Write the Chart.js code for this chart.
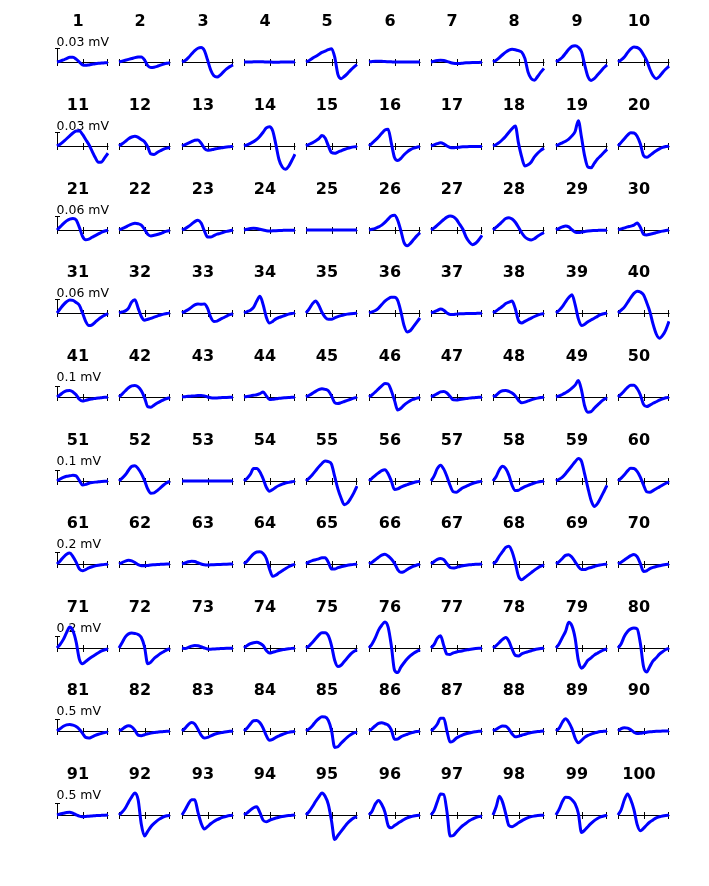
<!DOCTYPE html>
<html><head><meta charset="utf-8">
<script src="https://cdn.jsdelivr.net/npm/chart.js@4.4.1/dist/chart.umd.min.js"></script>
<style>
html,body{margin:0;padding:0;background:#fff;}
#fig{position:relative;width:709px;height:886px;overflow:hidden;background:#fff;}
#fig canvas{position:absolute;}
</style></head><body><div id="fig"></div>
<script>
// ---- data ----
const timeSamples = [0,.0625,.125,.1875,.25,.3125,.375,.4375,.5,.5625,.625,.6875,.75,.8125,.875,.9375,1];
const xTickValues = [0, 0.5, 1];
const rowScaleBarMv = [0.03,0.03,0.06,0.06,0.1,0.1,0.2,0.2,0.5,0.5];
const rowScaleBarLabels = ['0.03 mV','0.03 mV','0.06 mV','0.06 mV','0.1 mV','0.1 mV','0.2 mV','0.2 mV','0.5 mV','0.5 mV'];

const w1 = [0,.0018,.0042,.0072,.0096,.0096,.006,0,-.006,-.0069,-.006,-.0048,-.0036,-.0027,-.0021,-.0018,-.0015];
const w2 = [0,.0018,.0036,.0054,.0072,.009,.0102,.0105,.0045,-.0075,-.0114,-.0108,-.009,-.0066,-.0045,-.0027,-.0015];
const w3 = [0,.003,.009,.0165,.0234,.0285,.03,.024,.0045,-.0165,-.0285,-.0312,-.027,-.0204,-.0144,-.0096,-.006];
const w4 = [0,0,0,.0003,.0003,.0003,.0003,0,0,-.0003,-.0003,-.0003,0,0,0,0,0];
const w5 = [0,.003,.0075,.0114,.0156,.0198,.0225,.0255,.0276,.0105,-.0255,-.0345,-.03,-.024,-.0168,-.0105,-.0054];
const w6 = [0,.0012,.0018,.0018,.0015,.0009,.0006,.0003,0,0,0,0,0,0,0,0,0];
const w7 = [0,.0018,.003,.0036,.003,.0012,-.0009,-.0024,-.003,-.003,-.0024,-.0018,-.0015,-.0012,-.0009,-.0009,-.0006];
const w8 = [0,.0036,.009,.015,.0204,.0246,.0264,.0255,.0234,.0204,.0075,-.021,-.0345,-.0375,-.03,-.021,-.0132];
const w9 = [0,.0045,.0099,.018,.0264,.0324,.0336,.0306,.021,-.006,-.03,-.0381,-.0345,-.027,-.0195,-.012,-.006];
const w10 = [0,.0045,.0105,.0195,.027,.0312,.03,.0255,.015,.003,-.015,-.0285,-.0345,-.03,-.0216,-.0144,-.0084];
const w11 = [0,.0036,.009,.015,.021,.027,.0309,.0315,.024,.0135,.003,-.0105,-.024,-.0336,-.033,-.024,-.015];
const w12 = [0,.0045,.0096,.015,.0186,.0204,.018,.0135,.009,-.0015,-.0165,-.0174,-.0135,-.0099,-.0066,-.0045,-.003];
const w13 = [0,.003,.006,.009,.012,.0126,.006,-.0045,-.009,-.0081,-.0066,-.0054,-.0042,-.003,-.0021,-.0015,-.0009];
const w14 = [0,.0024,.0054,.009,.0135,.0204,.0285,.0375,.0399,.0315,.003,-.0285,-.0435,-.048,-.042,-.03,-.0171];
const w15 = [0,.0036,.0066,.0105,.015,.0216,.0165,.0006,-.0135,-.015,-.0126,-.0099,-.0072,-.0048,-.003,-.0018,-.0012];
const w16 = [0,.006,.012,.0186,.0264,.033,.0345,.006,-.024,-.03,-.0255,-.018,-.012,-.0075,-.0042,-.0024,-.0015];
const w17 = [0,.0024,.0048,.0066,.0045,0,-.003,-.0036,-.003,-.0024,-.0018,-.0015,-.0012,-.0012,-.0009,-.0009,-.0009];
const w18 = [0,.003,.0075,.0135,.0204,.0285,.036,.0414,.006,-.0225,-.0414,-.039,-.033,-.0225,-.015,-.009,-.0045];
const w19 = [0,.0036,.0066,.0099,.0144,.021,.03,.0525,.018,-.021,-.0435,-.045,-.036,-.027,-.0204,-.0135,-.0069];
const w20 = [0,.0075,.015,.0225,.0276,.027,.0204,.0045,-.0195,-.0234,-.0195,-.0144,-.0099,-.006,-.003,-.0012,0];
const w21 = [0,.0132,.027,.039,.0468,.0498,.0432,.012,-.027,-.042,-.039,-.0312,-.024,-.0168,-.0096,-.0042,-.0012];
const w22 = [0,.006,.012,.0192,.0252,.0288,.027,.021,.003,-.018,-.0252,-.0228,-.0192,-.015,-.0096,-.0048,-.0024];
const w23 = [0,.006,.015,.0252,.036,.042,.03,-.003,-.03,-.03,-.024,-.018,-.0144,-.0096,-.006,-.003,0];
const w24 = [0,.003,.006,.0072,.006,.003,0,-.003,-.0042,-.0036,-.003,-.0024,-.0018,-.0012,-.0012,-.0006,-.0006];
const w25 = [0,0,0,0,0,0,0,0,0,0,0,0,0,0,0,0,0];
const w26 = [0,.003,.0072,.0132,.021,.033,.0468,.06,.063,.042,-.003,-.054,-.0672,-.057,-.0408,-.0252,-.0114];
const w27 = [0,.009,.021,.033,.045,.0552,.06,.057,.045,.024,.003,-.03,-.051,-.063,-.057,-.042,-.0228];
const w28 = [0,.012,.024,.0372,.0492,.0528,.0468,.033,.012,-.012,-.03,-.039,-.0426,-.0372,-.027,-.018,-.0108];
const w29 = [0,.0072,.0132,.0168,.0132,.0012,-.009,-.0108,-.009,-.006,-.0042,-.003,-.0024,-.0018,-.0012,-.0012,-.0006];
const w30 = [0,.0048,.009,.0132,.0168,.021,.03,.012,-.018,-.021,-.018,-.015,-.0114,-.0078,-.0048,-.0024,0];
const w31 = [0,.018,.0348,.048,.0558,.054,.045,.033,0,-.036,-.054,-.051,-.039,-.027,-.0168,-.009,-.003];
const w32 = [0,.0048,.009,.021,.048,.057,.021,-.015,-.0312,-.027,-.0228,-.018,-.0132,-.0084,-.0048,-.0018,0];
const w33 = [0,.0072,.015,.0252,.0348,.039,.0372,.039,.021,-.018,-.036,-.0348,-.027,-.0204,-.0132,-.0072,-.003];
const w34 = [0,.006,.012,.024,.051,.072,.036,-.018,-.0432,-.036,-.0252,-.0192,-.0144,-.0096,-.0048,-.0018,0];
const w35 = [0,.018,.039,.051,.033,.003,-.018,-.027,-.027,-.021,-.0156,-.0114,-.0078,-.0048,-.003,-.0018,-.0012];
const w36 = [0,.0048,.0108,.021,.036,.051,.0612,.0672,.0672,.054,.006,-.054,-.081,-.075,-.057,-.039,-.021];
const w37 = [0,.0048,.0108,.0168,.012,0,-.006,-.006,-.0048,-.0036,-.003,-.0024,-.0024,-.0018,-.0018,-.0012,-.0012];
const w38 = [0,.009,.0192,.0288,.0408,.0468,.051,.018,-.033,-.0432,-.036,-.0288,-.0216,-.015,-.009,-.0048,-.0024];
const w39 = [0,.012,.027,.048,.066,.078,.036,-.024,-.054,-.048,-.0372,-.03,-.0228,-.0144,-.0072,-.003,0];
const w40 = [0,.012,.0252,.045,.066,.084,.093,.09,.078,.045,.006,-.048,-.09,-.108,-.096,-.072,-.036];
const w41 = [0,.02,.042,.055,.058,.045,.02,-.02,-.036,-.03,-.022,-.017,-.013,-.009,-.006,-.003,-.001];
const w42 = [0,.025,.055,.082,.098,.102,.09,.055,-.005,-.085,-.09,-.072,-.053,-.038,-.025,-.013,-.006];
const w43 = [0,.003,.006,.008,.01,.013,.014,.01,0,-.006,-.008,-.008,-.006,-.005,-.004,-.003,-.002];
const w44 = [0,.005,.01,.015,.02,.03,.045,.01,-.022,-.02,-.016,-.012,-.009,-.007,-.005,-.003,-.002];
const w45 = [0,.015,.032,.05,.065,.074,.068,.055,.01,-.05,-.058,-.05,-.04,-.03,-.02,-.01,-.003];
const w46 = [0,.02,.045,.072,.098,.12,.115,.055,-.03,-.115,-.1,-.072,-.05,-.032,-.02,-.01,-.004];
const w47 = [0,.015,.03,.045,.048,.035,.005,-.025,-.026,-.022,-.018,-.014,-.01,-.007,-.005,-.003,-.002];
const w48 = [0,.015,.042,.055,.058,.05,.035,.01,-.03,-.05,-.045,-.035,-.025,-.017,-.01,-.005,-.002];
const w49 = [0,.01,.022,.038,.055,.078,.105,.145,.06,-.08,-.135,-.13,-.1,-.072,-.045,-.022,-.008];
const w50 = [0,.025,.055,.085,.105,.105,.075,.02,-.065,-.085,-.072,-.055,-.042,-.028,-.016,-.007,-.002];
const w51 = [0,.018,.032,.042,.046,.05,.045,.005,-.035,-.03,-.02,-.014,-.01,-.007,-.004,-.002,-.001];
const w52 = [0,.025,.055,.095,.13,.135,.11,.065,.005,-.07,-.108,-.105,-.085,-.06,-.035,-.015,-.003];
const w53 = [0,0,0,0,0,0,0,0,0,0,0,0,0,0,0,0,0];
const w54 = [0,.025,.06,.11,.11,.08,.02,-.055,-.09,-.075,-.055,-.04,-.028,-.018,-.012,-.006,-.002];
const w55 = [0,.025,.055,.09,.125,.155,.178,.172,.15,.04,-.07,-.15,-.21,-.195,-.155,-.105,-.045];
const w56 = [0,.025,.05,.072,.092,.1,.065,0,-.075,-.07,-.055,-.042,-.032,-.022,-.013,-.006,-.002];
const w57 = [0,.045,.11,.14,.105,.04,-.04,-.095,-.1,-.08,-.06,-.048,-.035,-.022,-.013,-.006,-.002];
const w58 = [0,.04,.1,.13,.11,.05,-.04,-.085,-.082,-.065,-.05,-.038,-.028,-.018,-.01,-.005,-.002];
const w59 = [0,.015,.035,.065,.1,.135,.17,.2,.175,.06,-.06,-.17,-.225,-.2,-.15,-.095,-.038];
const w60 = [0,.025,.055,.09,.112,.11,.085,.035,-.035,-.095,-.1,-.085,-.068,-.052,-.035,-.02,-.009];
const w61 = [0,.05,.11,.16,.18,.12,.03,-.08,-.11,-.09,-.064,-.044,-.03,-.02,-.012,-.006,-.002];
const w62 = [0,.024,.048,.06,.05,.024,-.01,-.028,-.03,-.024,-.016,-.012,-.008,-.006,-.004,-.002,0];
const w63 = [0,.016,.036,.046,.04,.02,0,-.012,-.016,-.014,-.012,-.01,-.008,-.006,-.004,-.002,0];
const w64 = [0,.05,.11,.164,.196,.2,.17,.09,-.08,-.2,-.18,-.144,-.11,-.076,-.044,-.02,-.006];
const w65 = [0,.034,.056,.07,.084,.1,.1,.03,-.08,-.08,-.06,-.044,-.032,-.02,-.012,-.006,-.002];
const w66 = [0,.03,.07,.11,.144,.16,.13,.08,.01,-.09,-.136,-.124,-.09,-.06,-.036,-.016,-.006];
const w67 = [0,.04,.076,.09,.07,.004,-.056,-.066,-.056,-.04,-.028,-.02,-.014,-.01,-.006,-.004,-.002];
const w68 = [0,.044,.13,.2,.27,.29,.2,.02,-.2,-.256,-.22,-.18,-.14,-.1,-.064,-.036,-.016];
const w69 = [0,.04,.09,.14,.152,.11,.036,-.04,-.09,-.09,-.07,-.056,-.04,-.024,-.014,-.006,-.002];
const w70 = [0,.03,.064,.1,.136,.156,.12,.01,-.12,-.11,-.076,-.056,-.04,-.028,-.016,-.008,-.004];
const w71 = [0,.06,.14,.25,.34,.28,.1,-.18,-.256,-.22,-.18,-.144,-.11,-.076,-.048,-.028,-.016];
const w72 = [0,.09,.18,.23,.244,.236,.22,.17,.02,-.256,-.23,-.17,-.13,-.09,-.06,-.03,-.01];
const w73 = [0,-.008,.01,.03,.04,.036,.02,0,-.016,-.02,-.016,-.012,-.01,-.008,-.006,-.004,-.004];
const w74 = [0,.04,.07,.086,.092,.076,.04,-.04,-.08,-.07,-.054,-.04,-.03,-.02,-.012,-.006,-.002];
const w75 = [0,.036,.09,.15,.21,.25,.25,.2,.04,-.2,-.3,-.28,-.22,-.16,-.1,-.056,-.03];
const w76 = [0,.07,.17,.29,.37,.424,.34,.04,-.36,-.4,-.31,-.24,-.176,-.124,-.084,-.054,-.03];
const w77 = [0,.06,.16,.2,.04,-.1,-.104,-.08,-.066,-.054,-.044,-.034,-.024,-.016,-.01,-.006,-.004];
const w78 = [0,.04,.09,.14,.17,.11,-.02,-.12,-.13,-.096,-.076,-.06,-.044,-.028,-.016,-.008,-.004];
const w79 = [0,.07,.17,.27,.42,.36,.16,-.2,-.33,-.28,-.2,-.16,-.116,-.084,-.054,-.03,-.016];
const w80 = [0,.07,.19,.27,.31,.324,.31,.08,-.3,-.39,-.3,-.21,-.16,-.1,-.06,-.024,-.006];
const w81 = [0,.1,.2,.26,.28,.25,.19,.075,-.1,-.275,-.3,-.25,-.19,-.14,-.1,-.065,-.04];
const w82 = [0,.075,.175,.22,.175,.025,-.175,-.2,-.16,-.12,-.09,-.065,-.05,-.035,-.025,-.015,-.01];
const w83 = [0,.125,.275,.36,.3,.075,-.175,-.3,-.275,-.21,-.15,-.11,-.08,-.05,-.03,-.015,-.005];
const w84 = [0,.125,.3,.44,.45,.35,.125,-.2,-.4,-.36,-.275,-.21,-.15,-.1,-.06,-.035,-.02];
const w85 = [0,.09,.225,.4,.525,.61,.6,.45,.025,-.7,-.675,-.525,-.39,-.26,-.16,-.085,-.045];
const w86 = [0,.1,.225,.325,.35,.31,.25,.05,-.35,-.34,-.25,-.19,-.14,-.09,-.05,-.025,-.01];
const w87 = [0,.125,.3,.55,.55,0,-.475,-.425,-.3,-.225,-.165,-.12,-.085,-.05,-.03,-.015,-.005];
const w88 = [0,.075,.16,.21,.2,.075,-.125,-.25,-.225,-.18,-.14,-.1,-.07,-.045,-.025,-.015,-.005];
const w89 = [0,.125,.375,.525,.375,.1,-.3,-.5,-.4,-.275,-.19,-.135,-.09,-.05,-.025,-.01,-.005];
const w90 = [0,.1,.14,.125,.05,-.05,-.11,-.1,-.075,-.05,-.035,-.025,-.015,-.01,-.005,-.005,0];
const w91 = [0,.04,.075,.11,.12,.075,.01,-.05,-.075,-.065,-.05,-.04,-.03,-.02,-.015,-.01,-.005];
const w92 = [0,.125,.3,.55,.775,.94,.65,-.4,-.9,-.7,-.5,-.36,-.24,-.15,-.075,-.035,-.015];
const w93 = [0,.225,.475,.65,.65,.125,-.35,-.6,-.5,-.375,-.275,-.2,-.14,-.085,-.05,-.025,-.01];
const w94 = [0,.09,.21,.31,.35,.1,-.225,-.29,-.225,-.175,-.13,-.095,-.065,-.04,-.025,-.015,-.005];
const w95 = [0,.15,.35,.575,.775,.94,.8,.45,-.25,-1.05,-.875,-.7,-.525,-.35,-.225,-.125,-.075];
const w96 = [0,.175,.475,.625,.45,.125,-.45,-.55,-.45,-.36,-.275,-.19,-.125,-.075,-.04,-.02,-.01];
const w97 = [0,.2,.575,.9,.875,.15,-.9,-.875,-.725,-.575,-.45,-.35,-.25,-.175,-.11,-.07,-.05];
const w98 = [0,.35,.8,.55,.05,-.45,-.5,-.425,-.335,-.25,-.175,-.11,-.07,-.045,-.025,-.015,-.01];
const w99 = [0,.25,.575,.76,.75,.65,.475,.075,-.75,-.65,-.5,-.36,-.24,-.15,-.08,-.04,-.015];
const w100 = [0,.225,.65,.9,.65,.225,-.4,-.675,-.575,-.425,-.3,-.21,-.125,-.075,-.04,-.02,-.01];

const waveforms = [w1,w2,w3,w4,w5,w6,w7,w8,w9,w10,w11,w12,w13,w14,w15,w16,w17,w18,w19,w20,
  w21,w22,w23,w24,w25,w26,w27,w28,w29,w30,w31,w32,w33,w34,w35,w36,w37,w38,w39,w40,
  w41,w42,w43,w44,w45,w46,w47,w48,w49,w50,w51,w52,w53,w54,w55,w56,w57,w58,w59,w60,
  w61,w62,w63,w64,w65,w66,w67,w68,w69,w70,w71,w72,w73,w74,w75,w76,w77,w78,w79,w80,
  w81,w82,w83,w84,w85,w86,w87,w88,w89,w90,w91,w92,w93,w94,w95,w96,w97,w98,w99,w100];
const unitLabels = waveforms.map((_, i) => String(i + 1));

// ---- layout (pixels) ----
const COL_X0 = 57, COL_DX = 62.35, ROW_Y0 = 62.4, ROW_DY = 83.62;
const rowBarPx = [14.5,14.5,14,14,11.3,11.3,12.3,12.3,11.7,11.7];
const CANVAS_W = 62, CANVAS_H = 83, AXIS_OFF_X = 10, AXIS_W = 51, AXIS_OFF_Y = 52, HALF_H = 31;
const FONT = "'DejaVu Sans', sans-serif";

const spikeAxis = {
  id: 'spikeAxis',
  beforeDatasetsDraw(chart, args, opts) {
    const ctx = chart.ctx, xs = chart.scales.x, ys = chart.scales.y;
    const y0 = Math.round(ys.getPixelForValue(0)) + 0.5;
    const xa = xs.getPixelForValue(xTickValues[0]);
    const xb = xs.getPixelForValue(xTickValues[xTickValues.length - 1]);
    ctx.save();
    ctx.strokeStyle = '#000';
    ctx.lineWidth = 1;
    ctx.beginPath();
    ctx.moveTo(xa, y0); ctx.lineTo(xb + 0.5, y0);
    for (const t of xTickValues) {
      const px = Math.min(Math.round(xs.getPixelForValue(t)), Math.round(xb) - 1) + 0.5;
      ctx.moveTo(px, y0 - 3.5); ctx.lineTo(px, y0 + 3.5);
    }
    ctx.stroke();
    if (opts && opts.bar) {
      const bx = Math.round(xs.getPixelForValue(0)) + 0.5;
      const yt = Math.round(ys.getPixelForValue(opts.bar)) + 0.5;
      ctx.beginPath();
      ctx.moveTo(bx, y0); ctx.lineTo(bx, yt);
      ctx.moveTo(bx - 2.5, yt); ctx.lineTo(bx + 2.5, yt);
      ctx.stroke();
      ctx.fillStyle = '#000';
      ctx.font = '12.5px ' + FONT;
      ctx.textAlign = 'left';
      ctx.textBaseline = 'alphabetic';
      ctx.fillText(opts.label, bx - 1, y0 - 17);
    }
    ctx.restore();
  }
};

const fig = document.getElementById('fig');
waveforms.forEach((wave, i) => {
  const r = Math.floor(i / 10), c = i % 10;
  const colLeft = Math.round(COL_X0 + COL_DX * c);
  const axisY = Math.round(ROW_Y0 + ROW_DY * r);
  const cv = document.createElement('canvas');
  cv.width = CANVAS_W; cv.height = CANVAS_H;
  cv.style.width = CANVAS_W + 'px'; cv.style.height = CANVAS_H + 'px';
  cv.style.left = (colLeft - AXIS_OFF_X) + 'px';
  cv.style.top = (axisY - AXIS_OFF_Y) + 'px';
  fig.appendChild(cv);
  const yMax = HALF_H / rowBarPx[r] * rowScaleBarMv[r];
  new Chart(cv, {
    type: 'line',
    data: {
      datasets: [{
        data: timeSamples.map((t, k) => ({ x: t, y: wave[k] })),
        borderColor: '#0000ff',
        borderWidth: 3,
        pointRadius: 0,
        cubicInterpolationMode: 'monotone',
        borderJoinStyle: 'round',
        fill: false,
        clip: false
      }]
    },
    options: {
      responsive: false,
      animation: false,
      devicePixelRatio: 1,
      events: [],
      layout: { padding: 0 },
      plugins: {
        legend: { display: false },
        tooltip: { enabled: false },
        title: {
          display: true,
          text: unitLabels[i],
          color: '#000',
          font: { family: FONT, size: 16, weight: 'bold', lineHeight: 1.125 },
          padding: { top: 3, bottom: 0 }
        },
        spikeAxis: c === 0 ? { bar: rowScaleBarMv[r], label: rowScaleBarLabels[r] } : { bar: 0 }
      },
      scales: {
        x: { type: 'linear', display: false, min: -AXIS_OFF_X / AXIS_W, max: (CANVAS_W - AXIS_OFF_X) / AXIS_W },
        y: { type: 'linear', display: false, min: -yMax, max: yMax }
      }
    },
    plugins: [spikeAxis]
  });
});
</script>
</body></html>
